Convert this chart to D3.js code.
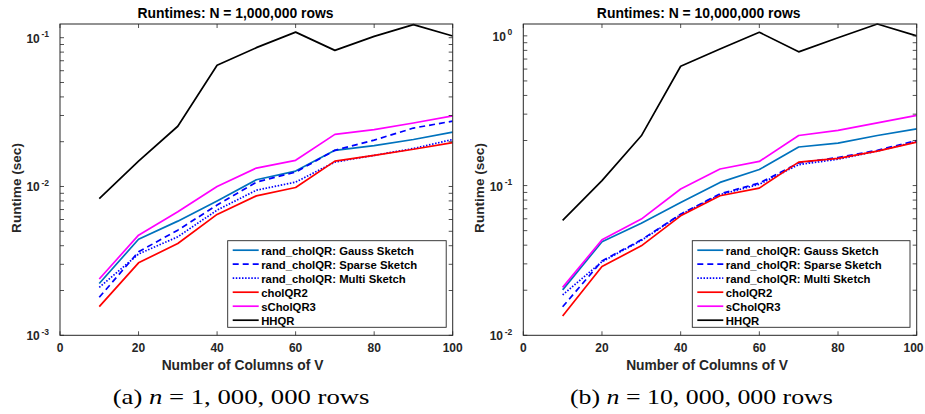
<!DOCTYPE html>
<html><head><meta charset="utf-8">
<script src="https://cdn.jsdelivr.net/npm/d3@7"></script>
<style>body{margin:0;background:#fff;} svg{display:block;}</style>
</head><body><svg id="c" width="925" height="414"></svg>
<script>
const columns = [10,20,30,40,50,60,70,80,90,100];
const seriesNames = ["rand_cholQR: Gauss Sketch","rand_cholQR: Sparse Sketch","rand_cholQR: Multi Sketch","cholQR2","sCholQR3","HHQR"];
const xTicks = [0,20,40,60,80,100];

// N = 1,000,000 rows
const a_gauss  = [0.00223,0.00442,0.00585,0.0080,0.0111,0.0127,0.0175,0.0188,0.0207,0.0232];
const a_sparse = [0.0018,0.00364,0.00509,0.0075,0.0107,0.0125,0.0175,0.0205,0.0247,0.0275];
const a_multi  = [0.0021,0.00352,0.00459,0.00694,0.00944,0.0107,0.0146,0.0162,0.0180,0.0207];
const a_chol2  = [0.00156,0.00307,0.00414,0.00649,0.00865,0.00985,0.0148,0.0162,0.0178,0.0197];
const a_schol3 = [0.00239,0.00471,0.00676,0.0100,0.0133,0.0150,0.0224,0.0241,0.0267,0.0298];
const a_hhqr   = [0.0083,0.0148,0.0254,0.0652,0.0857,0.109,0.0822,0.102,0.1225,0.1026];
const a_yTicks = [1e-3,1e-2,1e-1];

// N = 10,000,000 rows
const b_gauss  = [0.0201,0.0422,0.0561,0.077,0.105,0.128,0.181,0.192,0.216,0.239];
const b_sparse = [0.0155,0.0314,0.0434,0.0644,0.088,0.104,0.1415,0.154,0.172,0.200];
const b_multi  = [0.0186,0.0310,0.0430,0.0640,0.087,0.102,0.138,0.150,0.170,0.197];
const b_chol2  = [0.01346,0.0288,0.0396,0.0628,0.0855,0.0962,0.1435,0.152,0.170,0.195];
const b_schol3 = [0.0209,0.0434,0.0597,0.0948,0.129,0.145,0.216,0.234,0.262,0.294];
const b_hhqr   = [0.0585,0.108,0.215,0.627,0.818,1.057,0.782,0.971,1.20,1.0];
const b_yTicks = [1e-2,1e-1,1e0];

const styles = [
  {color:"#0072BD", dash:null},
  {color:"#0000FF", dash:"6,4"},
  {color:"#0000FF", dash:"1.5,1.6"},
  {color:"#FF0000", dash:null},
  {color:"#FF00FF", dash:null},
  {color:"#000000", dash:null}
];

const svg = d3.select("#c");
const axisColor = "#262626";
const font = "'Liberation Sans', Arial, Helvetica, sans-serif";

// scale font-size so that text reaches a target width
function fitSize(sel, target){
  const w = sel.node().getComputedTextLength();
  const fs = parseFloat(sel.attr("font-size"));
  if(w>0) sel.attr("font-size", fs*target/w);
  return sel;
}

function panel(cfg){
  const g = svg.append("g");
  const x = d3.scaleLinear().domain([0,100]).range([cfg.x0,cfg.x1]);
  const y = d3.scaleLog().domain(cfg.yDomain).range([cfg.y1,cfg.y0]);
  const id = "clip"+cfg.key;
  svg.append("defs").append("clipPath").attr("id",id).append("rect")
    .attr("x",cfg.x0).attr("y",cfg.y0-1).attr("width",cfg.x1-cfg.x0).attr("height",cfg.y1-cfg.y0+1);

  // lines
  const line = d3.line().x((d,i)=>x(columns[i])).y(d=>y(d));
  const lg = g.append("g").attr("clip-path",`url(#${id})`);
  cfg.series.forEach((s,i)=>{
    lg.append("path").datum(s).attr("d",line).attr("fill","none")
      .attr("stroke",styles[i].color).attr("stroke-width",1.7)
      .attr("stroke-dasharray",styles[i].dash).attr("stroke-linejoin","round");
  });

  // ticks (inward), both sides
  const tl = 4;
  const minor = [];
  const [lo,hi] = cfg.yDomain;
  for(let e=Math.floor(Math.log10(lo)); e<=Math.ceil(Math.log10(hi)); e++){
    for(let m=1;m<10;m++){ const v=m*Math.pow(10,e); if(v>=lo && v<=hi) minor.push(v); }
  }
  const tg = g.append("g").attr("stroke",axisColor).attr("stroke-width",0.8);
  minor.forEach(v=>{
    tg.append("line").attr("x1",cfg.x0).attr("x2",cfg.x0+tl).attr("y1",y(v)).attr("y2",y(v));
    tg.append("line").attr("x1",cfg.x1).attr("x2",cfg.x1-tl).attr("y1",y(v)).attr("y2",y(v));
  });
  xTicks.forEach(v=>{
    tg.append("line").attr("x1",x(v)).attr("x2",x(v)).attr("y1",cfg.y1).attr("y2",cfg.y1-tl);
    tg.append("line").attr("x1",x(v)).attr("x2",x(v)).attr("y1",cfg.y0).attr("y2",cfg.y0+tl);
  });
  // box
  g.append("rect").attr("x",cfg.x0).attr("y",cfg.y0).attr("width",cfg.x1-cfg.x0).attr("height",cfg.y1-cfg.y0)
    .attr("fill","none").attr("stroke",axisColor).attr("stroke-width",1);

  // x tick labels (kept inside the page at the right edge)
  xTicks.forEach(v=>{
    const t = g.append("text").attr("x",x(v)).attr("y",cfg.y1+17).attr("text-anchor","middle")
      .attr("font-family",font).attr("font-weight","bold").attr("font-size",12).attr("fill",axisColor).text(v);
    const w = t.node().getComputedTextLength();
    if(x(v)+w/2 > 923.5){ t.attr("text-anchor","end").attr("x",923.5); }
  });
  // y tick labels
  cfg.yTicks.forEach(v=>{
    const e = Math.round(Math.log10(v));
    const t = g.append("text").attr("x",cfg.x0-11).attr("y",y(v)+5).attr("text-anchor","end")
      .attr("font-family",font).attr("font-weight","bold").attr("font-size",12).attr("fill",axisColor);
    t.append("tspan").text("10");
    t.append("tspan").attr("font-size",8.5).attr("dy",-5.5).text("\u2009"+(e<0? "-"+(-e) : e));
  });

  // title
  fitSize(g.append("text").attr("x",cfg.titleX).attr("y",18).attr("text-anchor","middle")
    .attr("font-family",font).attr("font-weight","bold").attr("font-size",12).attr("fill","#000").text(cfg.title), cfg.titleW);
  // x label
  fitSize(g.append("text").attr("x",cfg.xlabX).attr("y",369.5).attr("text-anchor","middle")
    .attr("font-family",font).attr("font-weight","bold").attr("font-size",12).attr("fill",axisColor).text("Number of Columns of V"), 162);
  // y label
  fitSize(g.append("text").attr("transform",`translate(${cfg.ylabX},188) rotate(-90)`).attr("text-anchor","middle")
    .attr("font-family",font).attr("font-weight","bold").attr("font-size",12).attr("fill",axisColor).text("Runtime (sec)"), 90);

  // legend
  const L = cfg.legend;
  const leg = g.append("g");
  leg.append("rect").attr("x",L.x).attr("y",L.y).attr("width",L.w).attr("height",L.h)
    .attr("fill","#fff").attr("stroke",axisColor).attr("stroke-width",0.9);
  const probe = leg.append("text").attr("font-family",font).attr("font-weight","bold").attr("font-size",11).text(seriesNames[0]);
  fitSize(probe, 153);
  const lfs = probe.attr("font-size");
  probe.remove();
  seriesNames.forEach((n,i)=>{
    const cy = L.y+9.5+i*14;
    leg.append("line").attr("x1",L.x+5).attr("x2",L.x+31).attr("y1",cy).attr("y2",cy)
      .attr("stroke",styles[i].color).attr("stroke-width",1.7).attr("stroke-dasharray",styles[i].dash);
    leg.append("text").attr("x",L.x+33.5).attr("y",cy+4.3).attr("font-family",font).attr("font-weight","bold")
      .attr("font-size",lfs).attr("fill","#000").text(n);
  });

  // caption (serif, horizontally scaled to the reference width)
  const c = g.append("text").attr("x",0).attr("y",0).attr("font-family","'Liberation Serif','Times New Roman',serif")
    .attr("font-size",20).attr("fill","#000");
  c.append("tspan").text(cfg.capPre+" ");
  c.append("tspan").attr("font-style","italic").text("n");
  c.append("tspan").text(" = "+cfg.capNum+" rows");
  const cw = c.node().getComputedTextLength();
  c.attr("transform",`translate(${cfg.capX},403.5) scale(${cfg.capW/cw},1)`);
}

panel({key:"a", x0:60, x1:452.7, y0:24, y1:335.3, yDomain:[1e-3,0.1236], yTicks:a_yTicks,
  series:[a_gauss,a_sparse,a_multi,a_chol2,a_schol3,a_hhqr],
  title:"Runtimes: N = 1,000,000 rows", titleX:235.5, titleW:196, xlabX:242.5, ylabX:20.5,
  legend:{x:227.7,y:240.7,w:218.5,h:86.6},
  capX:112.7, capW:257, capPre:"(a)", capNum:"1, 000, 000"});

panel({key:"b", x0:523.3, x1:916.7, y0:24, y1:335.3, yDomain:[1e-2,1.20], yTicks:b_yTicks,
  series:[b_gauss,b_sparse,b_multi,b_chol2,b_schol3,b_hhqr],
  title:"Runtimes: N = 10,000,000 rows", titleX:698.7, titleW:204, xlabX:707, ylabX:483.5,
  legend:{x:692.3,y:240.7,w:217.7,h:86.6},
  capX:570, capW:263, capPre:"(b)", capNum:"10, 000, 000"});
</script>
</body></html>
